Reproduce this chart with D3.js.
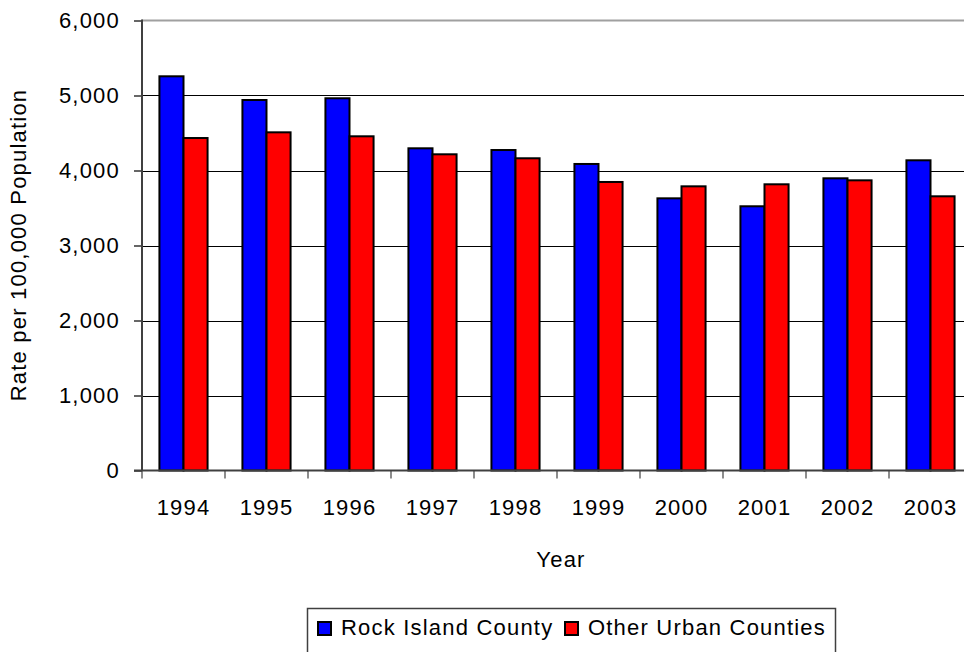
<!DOCTYPE html>
<html>
<head>
<meta charset="utf-8">
<script src="https://cdn.jsdelivr.net/npm/d3@7"></script>
<style>
  html, body { margin: 0; padding: 0; background: #fff; overflow: hidden; }
  svg { display: block; }
  text { font-family: "Liberation Sans", Arial, sans-serif; fill: #000; }
</style>
</head>
<body>
<svg id="chart" width="964" height="652"></svg>
<script>
const years = ["1994","1995","1996","1997","1998","1999","2000","2001","2002","2003"];
const seriesNames = ["Rock Island County", "Other Urban Counties"];
const rockIsland = [5256, 4940, 4963, 4296, 4273, 4087, 3629, 3523, 3896, 4136];
const otherUrban = [4433, 4509, 4456, 4216, 4163, 3847, 3789, 3816, 3869, 3656];
const yTicks = [0, 1000, 2000, 3000, 4000, 5000, 6000];
const colors = ["#0000FF", "#FF0000"];

(function () {
const svg = d3.select("#chart");
const pLeft = 142, pRight = 972, pTop = 20.5, pBottom = 470.5;
const FS = 22, LS = 1.2;

const x = d3.scaleBand().domain(years).range([pLeft, pRight]).paddingInner(0.42).paddingOuter(0.21);
const xs = d3.scaleBand().domain(seriesNames).range([0, x.bandwidth()]);
const y = d3.scaleLinear().domain([0, 6000]).range([pBottom, pTop]);

// gridlines
svg.append("g").selectAll("line").data(yTicks.filter(t => t > 0 && t < 6000)).join("line")
  .attr("x1", pLeft).attr("x2", pRight)
  .attr("y1", d => Math.round(y(d)) + 0.5).attr("y2", d => Math.round(y(d)) + 0.5)
  .attr("stroke", "#000").attr("stroke-width", 1.2);

// plot top border
svg.append("line").attr("x1", pLeft).attr("x2", pRight).attr("y1", y(6000)).attr("y2", y(6000))
  .attr("stroke", "#a0a0a0").attr("stroke-width", 2);

// bars
const data = years.map((yr, i) => ({ yr, vals: [rockIsland[i], otherUrban[i]] }));
const g = svg.append("g").selectAll("g").data(data).join("g")
  .attr("transform", d => `translate(${x(d.yr)},0)`);
g.selectAll("rect").data(d => d.vals.map((v, k) => ({ v, k }))).join("rect")
  .attr("x", d => xs(seriesNames[d.k]))
  .attr("width", xs.bandwidth())
  .attr("y", d => y(d.v))
  .attr("height", d => y(0) - y(d.v))
  .attr("fill", d => colors[d.k])
  .attr("stroke", "#000").attr("stroke-width", 2);

// y axis
const yAxis = d3.axisLeft(y).tickValues(yTicks).tickSize(8).tickPadding(14)
  .tickFormat(d3.format(","));
const ya = svg.append("g").attr("transform", `translate(${pLeft},0)`).call(yAxis);
ya.select(".domain").remove();
ya.selectAll(".tick line").attr("stroke", "#000").attr("stroke-width", 1.2);
ya.selectAll("text").style("font-size", FS + "px").style("letter-spacing", LS + "px")
  .attr("font-family", "Liberation Sans, Arial, sans-serif").attr("fill", "#000");
svg.append("line").attr("x1", pLeft).attr("x2", pLeft).attr("y1", pTop - 1).attr("y2", pBottom)
  .attr("stroke", "#404040").attr("stroke-width", 2);

// x axis
svg.append("line").attr("x1", pLeft - 8).attr("x2", pRight).attr("y1", pBottom).attr("y2", pBottom)
  .attr("stroke", "#404040").attr("stroke-width", 2);
svg.append("g").selectAll("line").data(d3.range(years.length + 1)).join("line")
  .attr("x1", i => pLeft + i * x.step()).attr("x2", i => pLeft + i * x.step())
  .attr("y1", pBottom).attr("y2", pBottom + 8)
  .attr("stroke", "#404040").attr("stroke-width", 1.2);
svg.append("g").selectAll("text").data(years).join("text")
  .attr("x", d => x(d) + x.bandwidth() / 2)
  .attr("y", 515)
  .attr("text-anchor", "middle")
  .style("font-size", FS + "px").style("letter-spacing", LS + "px")
  .text(d => d);

// axis titles
svg.append("text").attr("x", 561).attr("y", 567).attr("text-anchor", "middle")
  .style("font-size", FS + "px").style("letter-spacing", LS + "px").text("Year");
svg.append("text").attr("transform", "translate(26,245) rotate(-90)").attr("text-anchor", "middle")
  .style("font-size", FS + "px").style("letter-spacing", LS + "px").text("Rate per 100,000 Population");

// legend
const lg = svg.append("g");
lg.append("rect").attr("x", 307.5).attr("y", 608.5).attr("width", 528).attr("height", 60)
  .attr("fill", "#fff").attr("stroke", "#404040").attr("stroke-width", 1.5);
const legendX = [318, 565];
seriesNames.forEach((name, k) => {
  lg.append("rect").attr("x", legendX[k]).attr("y", 622).attr("width", 13).attr("height", 13)
    .attr("fill", colors[k]).attr("stroke", "#000").attr("stroke-width", 2);
  lg.append("text").attr("x", legendX[k] + 23).attr("y", 635)
    .style("font-size", FS + "px").style("letter-spacing", LS + "px").text(name);
});
})();
</script>
</body>
</html>
